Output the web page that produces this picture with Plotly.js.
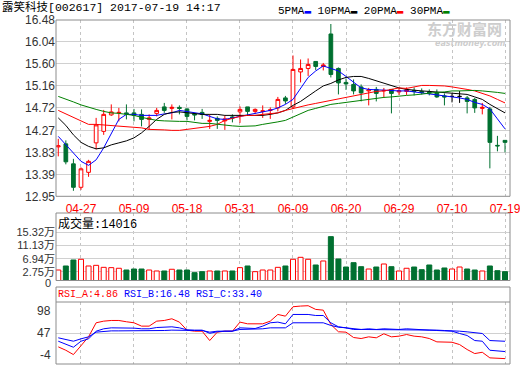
<!DOCTYPE html>
<html><head><meta charset="utf-8">
<script src="https://cdn.plot.ly/plotly-3.0.1.min.js"></script>
<style>html,body{margin:0;padding:0;background:#fff}#chart{width:520px;height:365px}</style>
</head><body><div id="chart"></div>
<script>
const dates = ['04-24','04-25','04-26','04-27','04-28','05-02','05-03','05-04','05-05','05-08',
 '05-09','05-10','05-11','05-12','05-15','05-16','05-17','05-18','05-19','05-22',
 '05-23','05-24','05-25','05-26','05-31','06-01','06-02','06-05','06-06','06-07',
 '06-08','06-09','06-12','06-13','06-14','06-15','06-16','06-19','06-20','06-21',
 '06-22','06-23','06-26','06-27','06-28','06-29','06-30','07-03','07-04','07-05',
 '07-06','07-07','07-10','07-11','07-12','07-13','07-14','07-17','07-18','07-19'];
const openP = [13.94,14.00,13.60,13.13,13.43,14.02,14.25,14.58,14.62,14.62,
 14.62,14.59,14.49,14.61,14.74,14.71,14.73,14.70,14.60,14.63,
 14.45,14.51,14.46,14.54,14.64,14.74,14.65,14.65,14.67,14.72,
 14.92,14.74,15.44,15.51,15.65,15.55,16.20,15.51,15.23,15.19,
 15.14,15.06,15.09,15.06,15.09,15.04,15.05,15.07,15.05,15.04,
 15.02,14.96,14.95,14.95,14.92,14.89,14.71,14.70,13.97,14.07];
const highP = [14.10,14.07,13.70,13.53,13.68,14.52,14.68,14.79,14.72,14.79,
 14.70,14.69,14.59,14.72,14.82,14.79,14.77,14.71,14.62,14.70,
 14.59,14.55,14.57,14.59,14.75,14.74,14.71,14.77,14.73,14.94,
 14.96,15.77,15.69,15.71,15.65,15.62,16.40,15.53,15.31,15.29,
 15.19,15.12,15.14,15.12,15.09,15.12,15.13,15.13,15.11,15.09,
 15.09,15.01,15.01,15.06,14.96,14.92,14.82,14.74,14.16,14.07];
const lowP = [13.75,13.59,13.06,13.08,13.34,13.89,14.18,14.56,14.45,14.49,
 14.45,14.35,14.28,14.55,14.62,14.49,14.59,14.47,14.47,14.50,
 14.30,14.30,14.28,14.43,14.42,14.58,14.60,14.52,14.50,14.65,
 14.80,14.70,15.23,15.36,15.48,15.47,15.33,14.99,15.08,14.99,
 14.85,14.77,14.85,14.92,14.61,14.98,14.98,14.97,14.99,14.97,
 14.92,14.77,14.83,14.82,14.61,14.62,14.59,13.51,13.85,13.83];
const closeP = [13.96,13.64,13.13,13.50,13.65,14.38,14.59,14.64,14.63,14.60,
 14.57,14.49,14.52,14.67,14.67,14.73,14.71,14.55,14.58,14.59,
 14.47,14.47,14.50,14.52,14.69,14.65,14.69,14.66,14.68,14.89,
 14.86,15.49,15.51,15.59,15.55,15.58,15.39,15.22,15.20,15.06,
 15.02,15.08,15.01,15.07,15.01,15.06,15.08,15.05,15.03,15.02,
 14.94,14.94,14.95,14.95,14.85,14.72,14.73,14.03,13.96,14.03];
// volume in 万
const volume = [3.35,4.63,6.55,6.77,4.63,4.84,4.2,4.1,3.9,3.35,
 3.67,3.67,3.35,3.04,3.04,3.58,3.35,3.35,2.5,2.82,
 3.04,3.04,3.04,3.04,4.1,4.63,2.82,3.35,3.35,4.2,
 4.63,6.77,7.4,6.77,4.95,6.23,14.0,6.87,4.31,5.69,
 4.41,3.67,4.31,5.27,4.41,3.04,3.9,4.31,3.46,4.95,
 3.35,4.0,3.67,4.31,3.67,3.35,3.04,4.63,3.14,2.82];
const ma5 = [14.15,13.98,13.82,13.65,13.57,13.68,13.92,14.22,14.49,14.59,
 14.59,14.57,14.57,14.57,14.60,14.62,14.67,14.65,14.62,14.60,
 14.55,14.50,14.49,14.52,14.55,14.59,14.62,14.65,14.67,14.72,
 14.79,14.89,15.12,15.33,15.46,15.56,15.51,15.46,15.35,15.23,
 15.12,15.09,15.08,15.07,15.06,15.06,15.06,15.04,15.02,15.01,
 14.98,14.96,14.94,14.92,14.89,14.83,14.79,14.70,14.50,14.30];
const ma10 = [14.52,14.37,14.18,14.03,13.95,13.90,13.92,13.98,14.02,14.06,
 14.12,14.22,14.35,14.49,14.59,14.63,14.64,14.62,14.60,14.59,
 14.59,14.59,14.57,14.57,14.57,14.57,14.57,14.57,14.59,14.62,
 14.67,14.77,14.85,14.96,15.06,15.16,15.21,15.28,15.33,15.35,
 15.35,15.31,15.26,15.21,15.17,15.12,15.09,15.07,15.06,15.05,
 15.04,15.02,15.01,15.01,14.99,14.94,14.89,14.79,14.70,14.62];
const ma20 = [14.67,14.60,14.53,14.45,14.39,14.39,14.38,14.37,14.36,14.35,
 14.34,14.32,14.29,14.29,14.28,14.27,14.27,14.29,14.31,14.34,
 14.35,14.39,14.47,14.51,14.55,14.57,14.57,14.59,14.61,14.62,
 14.67,14.71,14.75,14.78,14.81,14.84,14.87,14.90,14.94,14.96,
 14.99,15.02,15.05,15.06,15.09,15.12,15.11,15.14,15.17,15.17,
 15.17,15.16,15.14,15.12,15.09,15.06,15.01,14.96,14.89,14.82];
const ma30 = [14.95,14.90,14.84,14.78,14.73,14.69,14.65,14.62,14.61,14.59,
 14.57,14.53,14.50,14.47,14.46,14.45,14.45,14.45,14.43,14.41,
 14.41,14.39,14.37,14.36,14.35,14.35,14.36,14.39,14.41,14.44,
 14.47,14.54,14.60,14.67,14.71,14.75,14.79,14.81,14.83,14.85,
 14.88,14.89,14.91,14.93,14.94,14.96,14.97,14.98,15.00,15.02,
 15.03,15.04,15.06,15.06,15.07,15.07,15.06,15.05,15.03,15.01];
const rsiA = [24.2,18.6,11.5,26.9,40.7,63.8,66.5,67.6,67.6,65.5,
 63.8,58.3,58.3,66.5,67.6,70.4,64.9,51.6,50,50,
 34.6,48.4,50,50,64.9,62.1,62.1,62.1,66.5,77.5,
 74.7,90.2,91.3,91.9,85.8,84.6,61,49,48.4,39.6,
 37.9,40.7,39.1,45.7,40.7,41.8,44.5,41.8,40.7,37.9,
 32.4,31.8,31.8,28,19.8,13.2,15.3,6.1,4.9,4.86];
const rsiB = [33.5,28,23.6,33.5,37.4,50,53.9,55.5,55.5,55.5,
 55,53.9,53.9,56,57.2,57.2,55.5,52.2,51.7,51.7,
 46.5,49,50,50,55.5,54.4,54.4,58.3,63.8,64.9,
 62.1,77.5,77.5,77.5,75.8,75.8,63.8,57.2,55.5,53.9,
 52.8,53.9,52.8,53.9,52.8,52.8,53.9,52.8,52.8,51.7,
 51.1,50,50,46.2,42.9,34.6,33.5,18.6,18,16.48];
const rsiC = [39.1,36.3,33.5,37.4,40.7,48.4,50,50.5,50.5,50.5,
 50.5,50,50,50.5,51.1,51.7,51.1,51.1,51.1,51.1,
 48.4,50,50,50,52.8,52.8,52.8,53.9,55.5,55.5,
 55.5,63.8,63.8,63.8,63.8,63.8,59.4,56.6,55.5,52.8,
 52.8,52.8,52.8,52.8,52.8,52.8,52.8,52.8,52.8,52.8,
 51.7,51.1,51.1,50,48.9,47.4,46.2,34.6,33.5,33.40];
const dateTicks = ['04-27','05-09','05-18','05-31','06-09','06-20','06-29','07-10','07-19'];
const priceTicks = ['12.95','13.39','13.83','14.27','14.72','15.16','15.60','16.04','16.48'];
const volumeTicks = ['0','2.75','6.94','11.13','15.32'];
const rsiTicks = ['98','47','-4'];
const maNames = ['5PMA','10PMA','20PMA','30PMA'];
const stockName = '露笑科技', stockCode = '002617', stamp = '2017-07-19 14:17';
const volumeNow = 14016;

const RED = '#ff0000', GREEN = '#007030', BLUE = '#0000ff';
const maColors = [BLUE, '#000000', RED, '#008000'];
const MONO = '"Liberation Mono", "Noto Sans CJK SC", monospace';
const SANS = '"Liberation Sans", "Noto Sans CJK SC", sans-serif';
const FRAME = '#8c8c8c', GRID = '#d0d0d0';

const n = dates.length;
const idx = [...Array(n).keys()];
const isDoji = i => openP[i] === closeP[i];
const pick = (arr, f) => idx.filter(f).map(i => arr[i]);
const normal = i => !isDoji(i), doji = i => isDoji(i);

const traces = [];
traces.push({type:'candlestick', xaxis:'x', yaxis:'y',
  x: pick(dates, normal), open: pick(openP, normal), high: pick(highP, normal),
  low: pick(lowP, normal), close: pick(closeP, normal),
  increasing:{line:{color:RED, width:1}, fillcolor:'#ffffff'},
  decreasing:{line:{color:GREEN, width:1}, fillcolor:GREEN},
  whiskerwidth:0, hoverinfo:'skip'});
traces.push({type:'candlestick', xaxis:'x', yaxis:'y',
  x: pick(dates, doji), open: pick(openP, doji), high: pick(highP, doji),
  low: pick(lowP, doji), close: pick(closeP, doji),
  increasing:{line:{color:'#000', width:1}, fillcolor:'#000'},
  decreasing:{line:{color:'#000', width:1}, fillcolor:'#000'},
  whiskerwidth:0, hoverinfo:'skip'});
[ma5, ma10, ma20, ma30].forEach((m, k) => traces.push({type:'scatter', mode:'lines',
  x: dates, y: m, xaxis:'x', yaxis:'y', line:{color:maColors[k], width:1}, hoverinfo:'skip'}));

const up = idx.map(i => closeP[i] >= openP[i]);
traces.push({type:'bar', x: dates, y: volume, xaxis:'x2', yaxis:'y2', width:0.66,
  marker:{color: up.map(u => u ? '#ffffff' : GREEN), line:{color: up.map(u => u ? RED : GREEN), width:1}},
  hoverinfo:'skip'});

[[rsiA, RED], [rsiB, BLUE], [rsiC, BLUE]].forEach(([r, c]) => traces.push({type:'scatter', mode:'lines',
  x: dates, y: r, xaxis:'x3', yaxis:'y3', line:{color:c, width:1}, hoverinfo:'skip'}));

// layout geometry (pixels in a 365 tall page, plot area 20..364)
const H = 344, BOT = 364;
const fy = px => (BOT - px) / H;
const xAxisBase = {type:'category', categoryarray: dates, range:[-0.3, 59.66], tickmode:'array',
  tickvals: dateTicks, ticktext: dateTicks, showgrid:true, gridcolor:'#c4c4c4', griddash:'3px,3px',
  gridwidth:1, zeroline:false, showline:false, ticks:'outside', ticklen:1, tickcolor:'rgba(0,0,0,0)',
  fixedrange:true, rangeslider:{visible:false}};
const yBase = {zeroline:false, showline:false, ticks:'', showgrid:true, gridcolor:GRID, gridwidth:1,
  fixedrange:true, tickfont:{family:SANS, size:12, color:'#333'}};

const fmt = v => v.toFixed(2);
const annotations = [
  {xref:'paper', yref:'paper', x:(276-56)/454, y:fy(11), xanchor:'left', yanchor:'middle', showarrow:false,
   text: maNames.map((nm, k) => `${nm}<span style="color:${maColors[k]}">▬</span>`).join(' '),
   font:{family:MONO, size:11, color:'#000'}},
  {xref:'paper', yref:'paper', x:(464-56)/454, y:fy(28.5), xanchor:'center', yanchor:'middle', showarrow:false,
   text:'<b>东方财富网</b>', font:{family:'"Noto Sans CJK SC", sans-serif', size:15, color:'#cdcdcd'}},
  {xref:'paper', yref:'paper', x:(470-56)/454, y:fy(43.5), xanchor:'center', yanchor:'middle', showarrow:false,
   text:'<b><i>eastmoney.com</i></b>', font:{family:'"DejaVu Sans", sans-serif', size:8, color:'#cdcdcd'}},
  {xref:'paper', yref:'paper', x:0, y:fy(224), xanchor:'left', yanchor:'middle', showarrow:false,
   text:`成交量:${volumeNow}`, font:{family:MONO, size:12, color:'#000'}},
  {xref:'paper', yref:'paper', x:0, y:fy(294), xanchor:'left', yanchor:'middle', showarrow:false,
   text:`<span style="color:${RED}">RSI_A:${fmt(rsiA[n-1])}</span> <span style="color:${BLUE}">RSI_B:${fmt(rsiB[n-1])}</span> <span style="color:${BLUE}">RSI_C:${fmt(rsiC[n-1])}</span>`,
   font:{family:MONO, size:10, color:'#000'}},
  // bottom volume label sits on the frame edge, nudged down to keep clear of the 2.75万 label
  {xref:'paper', yref:'y2', x:0, xshift:-3, y:Number(volumeTicks[0]), yshift:-2, xanchor:'right', yanchor:'middle',
   showarrow:false, text:volumeTicks[0], font:{family:SANS, size:11, color:'#333'}}
];
rsiTicks.forEach((t, k) => annotations.push({xref:'paper', yref:'y3', x:0, xshift:-3, y:Number(t),
  xanchor:'right', yanchor: k === 0 ? 'top' : (k === rsiTicks.length-1 ? 'bottom' : 'middle'),
  showarrow:false, text:t, font:{family:SANS, size:12, color:'#333'}}));

const frame = (y0, y1) => ({type:'rect', xref:'paper', yref:'paper', x0:0, x1:1, y0, y1,
  line:{color:FRAME, width:1}, fillcolor:'rgba(0,0,0,0)', layer:'above'});
const shapes = [frame(fy(196.3), 1), frame(fy(280.5), fy(213)), frame(0, fy(287)),
  {type:'line', xref:'paper', yref:'paper', x0:0, x1:1, y0:fy(302), y1:fy(302), line:{color:FRAME, width:1}}];

const volTickVals = volumeTicks.slice(1);
const layout = {
  width:520, height:365, margin:{l:56, r:10, t:20, b:1, pad:0},
  paper_bgcolor:'#ffffff', plot_bgcolor:'#ffffff', showlegend:false,
  title:{text:`${stockName}[${stockCode}] ${stamp}`, x:2/520, xref:'container', xanchor:'left',
    y:1-6.8/365, yref:'container', yanchor:'middle', font:{family:MONO, size:11.5, color:'#000'}},
  xaxis: Object.assign({}, xAxisBase, {domain:[0,1], anchor:'y',
    tickfont:{family:SANS, size:12, color:RED}}),
  yaxis: Object.assign({}, yBase, {domain:[fy(196.3), 1], range:[12.95, 16.48],
    tickmode:'array', tickvals: priceTicks.map(Number), ticktext: priceTicks}),
  xaxis2: Object.assign({}, xAxisBase, {domain:[0,1], anchor:'y2', matches:'x', showticklabels:false, ticks:''}),
  yaxis2: Object.assign({}, yBase, {domain:[fy(280.5), fy(213)], range:[0, (280.5-213)/3.133],
    tickmode:'array', tickvals: volTickVals.map(Number), ticktext: volTickVals.map(t => t + '万'),
    tickfont:{family:SANS, size:11, color:'#333'}}),
  xaxis3: Object.assign({}, xAxisBase, {domain:[0,1], anchor:'y3', matches:'x', showticklabels:false, ticks:''}),
  yaxis3: Object.assign({}, yBase, {domain:[0, fy(302)], range:[-4, 98], tickmode:'array',
    tickvals:[47], showticklabels:false}),
  annotations, shapes
};
Plotly.newPlot('chart', traces, layout, {staticPlot:true, displayModeBar:false});
</script></body></html>
